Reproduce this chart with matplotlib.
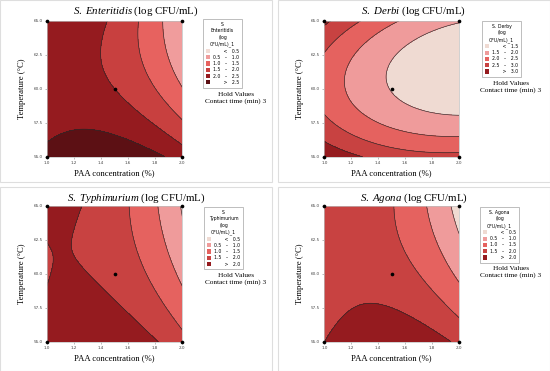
import numpy as np
import matplotlib
matplotlib.use("Agg")
import matplotlib.pyplot as plt
from matplotlib.patches import Rectangle, Patch

plt.rcParams['mathtext.fontset'] = 'custom'
plt.rcParams['mathtext.rm'] = 'Liberation Serif'
plt.rcParams['mathtext.it'] = 'Liberation Serif:italic'

# ---- data -------------------------------------------------------------
# response-surface coefficients (coded units: u=(PAA-1.5)/0.5, v=(T-60)/5)
# order: const, u, v, u^2, v^2, u*v   (contact time held at 3 min)
coef_enteritidis = [2.000, -0.590, -0.480, -0.393, 0.380, -0.396]
coef_derbi = [1.479, -0.586, -0.350, 0.245, 0.958, -0.204]
coef_typhimurium = [1.849, -0.551, -0.325, -0.415, 0.174, -0.277]
coef_agona = [1.737, -0.424, -0.420, -0.417, 0.210, -0.376]

species = ['S. Enteritidis', 'S. Derbi', 'S. Typhimurium', 'S. Agona']
legend_titles = ['S.\nEnteritidis\n(log\nCFU/mL)_1', 'S. Derby\n(log\nCFU/mL)_1',
                 'S.\nTyphimurium\n(log\nCFU/mL)_1', 'S. Agona\n(log\nCFU/mL)_1']
breaks_enteritidis = [0.5, 1.0, 1.5, 2.0, 2.5]
breaks_derbi = [1.5, 2.0, 2.5, 3.0]
breaks_typhimurium = [0.5, 1.0, 1.5, 2.0]
breaks_agona = [0.5, 1.0, 1.5, 2.0]

design_paa = [1.0, 2.0, 1.0, 2.0, 1.5]
design_temp = [55.0, 55.0, 65.0, 65.0, 60.0]
paa_range = [1.0, 2.0]
temp_range = [55.0, 65.0]
x_ticks = [1.0, 1.2, 1.4, 1.6, 1.8, 2.0]
y_ticks = [55.0, 57.5, 60.0, 62.5, 65.0]
hold_text = 'Hold Values\nContact time (min) 3'

cols6 = ['#f2dcd5', '#f09c9c', '#e7625f', '#c8403f', '#951b1f', '#5c1014']
cols5 = ['#efdad2', '#ef9b9b', '#e5625f', '#c84241', '#951b1f']

coefs = [coef_enteritidis, coef_derbi, coef_typhimurium, coef_agona]
breaks = [breaks_enteritidis, breaks_derbi, breaks_typhimurium, breaks_agona]
colors = [cols6, cols5, cols5, cols5]

# ---- layout (pixels) ---------------------------------------------------
W, H = 550, 371
fig = plt.figure(figsize=(W/100, H/100), dpi=100)
fig.patch.set_facecolor('white')

frames = [(0, 0, 272, 182), (278, 0, 550, 182), (0, 187, 272, 371), (278, 187, 550, 371)]
axboxes = [(46.7, 20.7, 182.3, 156.7), (324.3, 20.7, 459, 156.7),
           (46.7, 205.7, 182.3, 341.7), (324.3, 205.7, 459, 341.7)]
leg_pos = [(203, 19), (482, 21), (204, 207), (480, 207)]
hold_pos = [(236, 98), (511, 87), (236, 279), (511, 272)]

serif = 'Liberation Serif'

def fx(px):
    return px / W

def fy(py):
    return 1 - py / H

for (l, t, r, b) in frames:
    fig.add_artist(Rectangle((fx(l), fy(b)), fx(r - l), (b - t) / H, transform=fig.transFigure,
                             fill=False, edgecolor='#dedede', linewidth=0.8))

x = np.linspace(paa_range[0], paa_range[1], 301)
y = np.linspace(temp_range[0], temp_range[1], 301)
X, Y = np.meshgrid(x, y)
U = (X - 1.5) / 0.5
V = (Y - 60.0) / 5.0

def fmt_labels(br):
    labs = ['       <   %.1f' % br[0]]
    for a, c in zip(br[:-1], br[1:]):
        labs.append('%.1f   \u2013   %.1f' % (a, c))
    labs.append('       >   %.1f' % br[-1])
    return labs

for i in range(4):
    l, t, r, b = axboxes[i]
    ax = fig.add_axes([fx(l), fy(b), (r - l) / W, (b - t) / H])
    c = coefs[i]
    Z = c[0] + c[1]*U + c[2]*V + c[3]*U*U + c[4]*V*V + c[5]*U*V
    lev = [-100] + breaks[i] + [100]
    ax.contourf(X, Y, Z, levels=lev, colors=colors[i])
    ax.contour(X, Y, Z, levels=breaks[i], colors='#2a2a2a', linewidths=0.45)
    ax.scatter(design_paa, design_temp, s=7, color='black', zorder=5, clip_on=False, linewidths=0)
    ax.set_xlim(paa_range)
    ax.set_ylim(temp_range)
    ax.set_xticks(x_ticks)
    ax.set_xticklabels(['%.1f' % v for v in x_ticks])
    ax.set_yticks(y_ticks)
    ax.set_yticklabels(['%.1f' % v for v in y_ticks])
    ax.tick_params(labelsize=3, colors='#888888', labelcolor='#444444', length=1.5, width=0.4, pad=1.5)
    for s in ax.spines.values():
        s.set_color('#bdbdbd')
        s.set_linewidth(0.5)
    ax.set_xlabel('PAA concentration (%)', fontfamily=serif, fontsize=6.2, labelpad=3)
    ax.set_ylabel('Temperature (\u00b0C)', fontfamily=serif, fontsize=6.2, labelpad=5)

    fl, ft, fr, fb = frames[i]
    name = species[i].replace(' ', r'\ ')
    fig.text(fx((fl + fr) / 2), fy(ft + 11), r'$\mathit{' + name + '}$ (log CFU/mL)',
             fontfamily=serif, fontsize=7.8, ha='center', va='center')

    handles = [Patch(facecolor=col, edgecolor='none') for col in colors[i]]
    leg = fig.legend(handles, fmt_labels(breaks[i]), title=legend_titles[i],
                     loc='upper left', bbox_to_anchor=(fx(leg_pos[i][0]), fy(leg_pos[i][1])),
                     bbox_transform=fig.transFigure, borderaxespad=0,
                     fontsize=3.3, title_fontsize=3.3, frameon=True, fancybox=False,
                     edgecolor='#a0a0a0', handlelength=1.0, handleheight=1.0,
                     handletextpad=0.6, labelspacing=0.28, borderpad=0.6, alignment='center')
    leg.get_frame().set_linewidth(0.6)
    leg.get_title().set_multialignment('center')
    leg.get_title().set_linespacing(1.4)

    fig.text(fx(hold_pos[i][0]), fy(hold_pos[i][1]), hold_text, fontfamily=serif, fontsize=5.2,
             ha='center', va='center', linespacing=1.2)

fig.savefig('out.png', dpi=100, facecolor='white')
